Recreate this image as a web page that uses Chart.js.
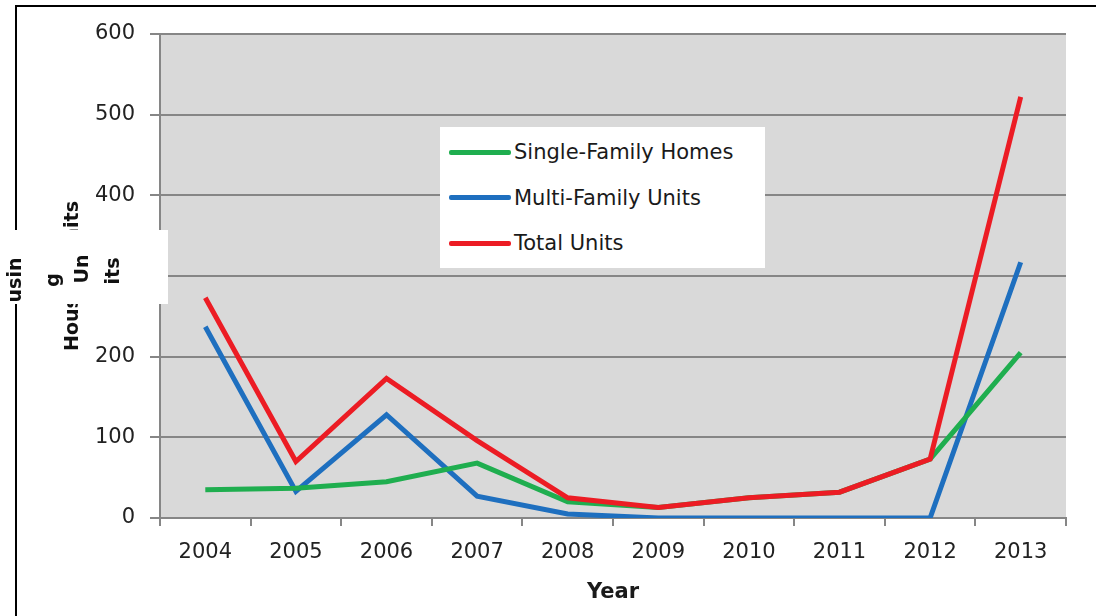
<!DOCTYPE html>
<html>
<head>
<meta charset="utf-8">
<script src="https://cdn.jsdelivr.net/npm/chart.js@4.4.1/dist/chart.umd.min.js"></script>
<style>
  body { margin: 0; background: #fff; font-family: "DejaVu Sans", sans-serif; }
  #wrap { position: relative; width: 1096px; height: 616px; overflow: hidden; }
  #frame { position: absolute; left: 15px; top: 5px; width: 1081px; height: 611px;
           border-top: 2px solid #000; border-left: 2px solid #000; box-sizing: border-box; }
  canvas { position: absolute; left: 0; top: 0; }
  #legend { position: absolute; left: 440px; top: 127px; width: 325px; height: 141px; background: #fff; }
  .item { position: absolute; left: 9px; height: 30px; display: flex; align-items: center;
          font-size: 21px; color: #1a1a1a; white-space: nowrap; }
  .item .swatch { width: 62px; height: 5px; border-radius: 2px; margin-right: 3px; }
  #patch { position: absolute; left: 15px; top: 230px; width: 153px; height: 74px; background: #fff; }
  .frag { position: absolute; font-weight: bold; font-size: 19px; color: #111;
          transform: translate(-50%, -50%) rotate(-90deg); white-space: nowrap; line-height: 1; }
</style>
</head>
<body>
<div id="wrap">
  <div id="frame"></div>
  <canvas id="housingChart" width="1096" height="616"></canvas>
  <div id="legend"></div>
  <div id="patch"></div>
</div>
<script>
// chart data
const years = ['2004', '2005', '2006', '2007', '2008', '2009', '2010', '2011', '2012', '2013'];
const singleFamily = [35, 37, 45, 68, 20, 13, 25, 32, 73, 205];
const multiFamily = [237, 33, 128, 27, 5, 0, 0, 0, 0, 317];
const totalUnits = [273, 70, 173, 96, 25, 13, 25, 32, 73, 522];
const yTicks = [0, 100, 200, 300, 400, 500, 600];

// broken, wrapped copy of the axis title sitting in a white box
const titleFragments = [
    { text: 'usin', x: 14, y: 280 },
    { text: 'g', x: 52, y: 280 },
    { text: 'Un', x: 81, y: 269 },
    { text: 'its', x: 112, y: 271 }
];

const gridGray = '#868686';
const font = 'DejaVu Sans';

const ctx = document.getElementById('housingChart').getContext('2d');
const chart = new Chart(ctx, {
    type: 'line',
    data: {
        labels: years,
        datasets: [
            { label: 'Single-Family Homes', data: singleFamily, borderColor: '#1fae4f', order: 1 },
            { label: 'Multi-Family Units', data: multiFamily, borderColor: '#1e6fbf', order: 2 },
            { label: 'Total Units', data: totalUnits, borderColor: '#ec1c24', order: 0 }
        ]
    },
    options: {
        responsive: false,
        animation: false,
        layout: { padding: { top: 34, right: 30, left: 0, bottom: 0 } },
        elements: {
            line: { borderWidth: 5, tension: 0, borderCapStyle: 'butt', borderJoinStyle: 'miter' },
            point: { radius: 0 }
        },
        plugins: {
            legend: { display: false },
            tooltip: { enabled: false }
        },
        scales: {
            x: {
                offset: true,
                afterFit: axis => { axis.height = 98; },
                grid: { offset: true, drawOnChartArea: false, drawTicks: true, tickLength: 8,
                        color: gridGray, lineWidth: 2 },
                border: { display: true, color: gridGray, width: 2 },
                ticks: { color: '#222', padding: 14, font: { family: font, size: 21 } },
                title: { display: true, text: 'Year', color: '#1a1a1a',
                         font: { family: font, size: 21, weight: 'bold' },
                         padding: { top: 0, bottom: 11 } }
            },
            y: {
                min: 0,
                max: 600,
                afterFit: axis => { axis.width = 160; },
                afterBuildTicks: axis => { axis.ticks = yTicks.map(v => ({ value: v })); },
                grid: { color: gridGray, lineWidth: 2, tickLength: 10 },
                border: { display: true, color: gridGray, width: 2 },
                ticks: { color: '#222', padding: 15, font: { family: font, size: 21 } },
                title: { display: true, text: 'Housing Units', color: '#111',
                         font: { family: font, size: 19, weight: 'bold' },
                         padding: { top: 62, bottom: 0 } }
            }
        }
    },
    plugins: [{
        id: 'plotBackground',
        beforeDraw(c) {
            const a = c.chartArea;
            c.ctx.save();
            c.ctx.fillStyle = '#d9d9d9';
            c.ctx.fillRect(a.left, a.top, a.right - a.left, a.bottom - a.top);
            c.ctx.restore();
        }
    }]
});

// legend box inside the plot
const legend = document.getElementById('legend');
chart.data.datasets.forEach((ds, i) => {
    const item = document.createElement('div');
    item.className = 'item';
    item.style.top = (10 + i * 45.5) + 'px';
    item.innerHTML = `<span class="swatch" style="background:${ds.borderColor}"></span>${ds.label}`;
    legend.appendChild(item);
});

// title fragments
const wrap = document.getElementById('wrap');
titleFragments.forEach(f => {
    const span = document.createElement('span');
    span.className = 'frag';
    span.textContent = f.text;
    span.style.left = f.x + 'px';
    span.style.top = f.y + 'px';
    wrap.appendChild(span);
});
</script>
</body>
</html>
